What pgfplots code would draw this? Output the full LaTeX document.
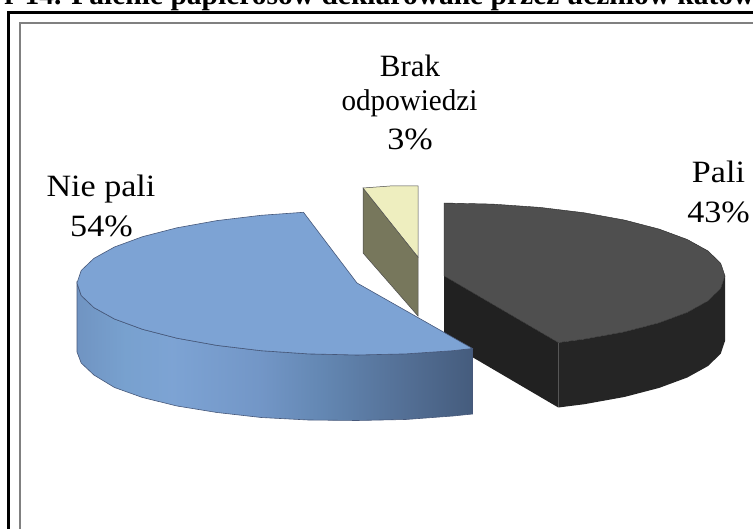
\documentclass[border=0pt]{standalone}
\usepackage{pgfplots}
\pgfplotsset{compat=1.18}
\usepackage{fontspec}
\setmainfont{Liberation Serif}
\definecolor{bluetop}{HTML}{7DA3D4}
\definecolor{blueedge}{HTML}{46587A}
\definecolor{greytop}{HTML}{4F4F4F}
\definecolor{greyside}{HTML}{252525}
\definecolor{greyface}{HTML}{212121}
\definecolor{yellowtop}{HTML}{EEEEBF}
\definecolor{olive}{HTML}{77775C}
\definecolor{frameg}{HTML}{808080}
\pgfdeclarehorizontalshading{bluefade}{100bp}{
  rgb(0bp)=(0.44,0.58,0.76);
  rgb(25bp)=(0.44,0.58,0.76);
  rgb(31bp)=(0.47,0.63,0.81);
  rgb(37bp)=(0.49,0.64,0.83);
  rgb(48bp)=(0.45,0.59,0.78);
  rgb(56bp)=(0.39,0.53,0.70);
  rgb(66bp)=(0.33,0.44,0.59);
  rgb(75bp)=(0.27,0.36,0.49);
  rgb(100bp)=(0.27,0.36,0.49)}
\begin{document}
\begin{tikzpicture}[x=1pt,y=1pt]
\path[use as bounding box,clip] (0,0) rectangle (753,529);
\begin{axis}[
  at={(0,0)},anchor=south west,
  scale only axis,width=753pt,height=529pt,
  xmin=0,xmax=753,ymin=0,ymax=529,y dir=reverse,
  hide axis,clip=false,no markers]
% frame
\addplot[black,line width=2.6pt] coordinates {(8.5,535) (8.5,12.5) (760,12.5)};
\addplot[frameg,line width=1.4pt] coordinates {(20,535) (20,23) (760,23)};
% Pali: side faces
\addplot[fill=greyface,draw=none] coordinates {(444,276) (558.3,342.7) (558.3,407.5) (444,340.5)} -- cycle;
\addplot[fill=greyside,draw=none] coordinates {(558.3,342.7) (584.5,339.2) (624.7,331.9) (659.2,322.9) (687.3,312.5) (708.1,301) (720.7,288.7) (725,276) (725,341) (720.7,353.7) (708.1,366) (687.3,377.5) (659.2,387.9) (624.7,396.9) (584.5,404.2) (558.3,407.5)} -- cycle;
% Pali: top
\addplot[fill=greytop,draw=greyside,line width=0.4pt] coordinates {(444,203) (492.8,204.1) (540.1,207.4) (584.5,212.8) (624.7,220.1) (659.2,229.1) (687.3,239.5) (708.1,251) (720.7,263.3) (725,276) (720.7,288.7) (708.1,301) (687.3,312.5) (659.2,322.9) (624.7,331.9) (584.5,339.2) (558.3,342.7) (444,276)} -- cycle;
% Brak odpowiedzi
\addplot[fill=olive,draw=black!70,line width=0.5pt] coordinates {(363,188) (418,257) (418,316) (363,253)} -- cycle;
\addplot[fill=yellowtop,draw=black!70,line width=0.5pt] coordinates {(363,188) (390,186) (418,186) (418,257)} -- cycle;
% Nie pali: side
\addplot[shading=bluefade,shade,draw=blueedge,line width=0.6pt] coordinates {(77,283) (81.2,295.5) (93.9,307.6) (114.5,319) (142.5,329.3) (177,338.2) (217,345.4) (261.2,350.7) (308.4,353.9) (357,355) (405.6,353.9) (452.8,350.7) (472.5,348.5) (472.5,414) (452.8,416) (405.6,419.5) (357,420.5) (308.4,420) (261.2,417.5) (217,412.5) (177,406) (142.5,397.5) (114.5,387.5) (93.9,375) (81.2,363) (77,352)} -- cycle;
% Nie pali: top
\addplot[fill=bluetop,draw=blueedge,line width=0.6pt] coordinates {(303.5,212.3) (261.2,215.3) (217,220.6) (177,227.8) (142.5,236.7) (114.5,247) (93.9,258.4) (81.2,270.5) (77,283) (81.2,295.5) (93.9,307.6) (114.5,319) (142.5,329.3) (177,338.2) (217,345.4) (261.2,350.7) (308.4,353.9) (357,355) (405.6,353.9) (452.8,350.7) (472.5,348.5) (357,283)} -- cycle;
% texts
\node[anchor=base west,inner sep=0pt,font=\fontsize{29.5}{34}\selectfont\bfseries] at (axis cs:4,4.5) {r 14. Palenie papierosów deklarowane przez uczniów katow};
\node[anchor=base,inner sep=0pt,font=\fontsize{31}{36}\selectfont] at (axis cs:410,77) {Brak};
\node[anchor=base,inner sep=0pt,xscale=0.97,font=\fontsize{30}{36}\selectfont] at (axis cs:409.5,111) {odpowiedzi};
\node[anchor=base,inner sep=0pt,xscale=1.1,font=\fontsize{31}{36}\selectfont] at (axis cs:410,150) {3\%};
\node[anchor=base,inner sep=0pt,xscale=1.1,font=\fontsize{31}{36}\selectfont] at (axis cs:101,197) {Nie pali};
\node[anchor=base,inner sep=0pt,xscale=1.1,font=\fontsize{31}{36}\selectfont] at (axis cs:101.5,237) {54\%};
\node[anchor=base,inner sep=0pt,xscale=1.1,font=\fontsize{31}{36}\selectfont] at (axis cs:718.5,183) {Pali};
\node[anchor=base,inner sep=0pt,xscale=1.1,font=\fontsize{31}{36}\selectfont] at (axis cs:718.5,223) {43\%};
\end{axis}
\end{tikzpicture}
\end{document}
